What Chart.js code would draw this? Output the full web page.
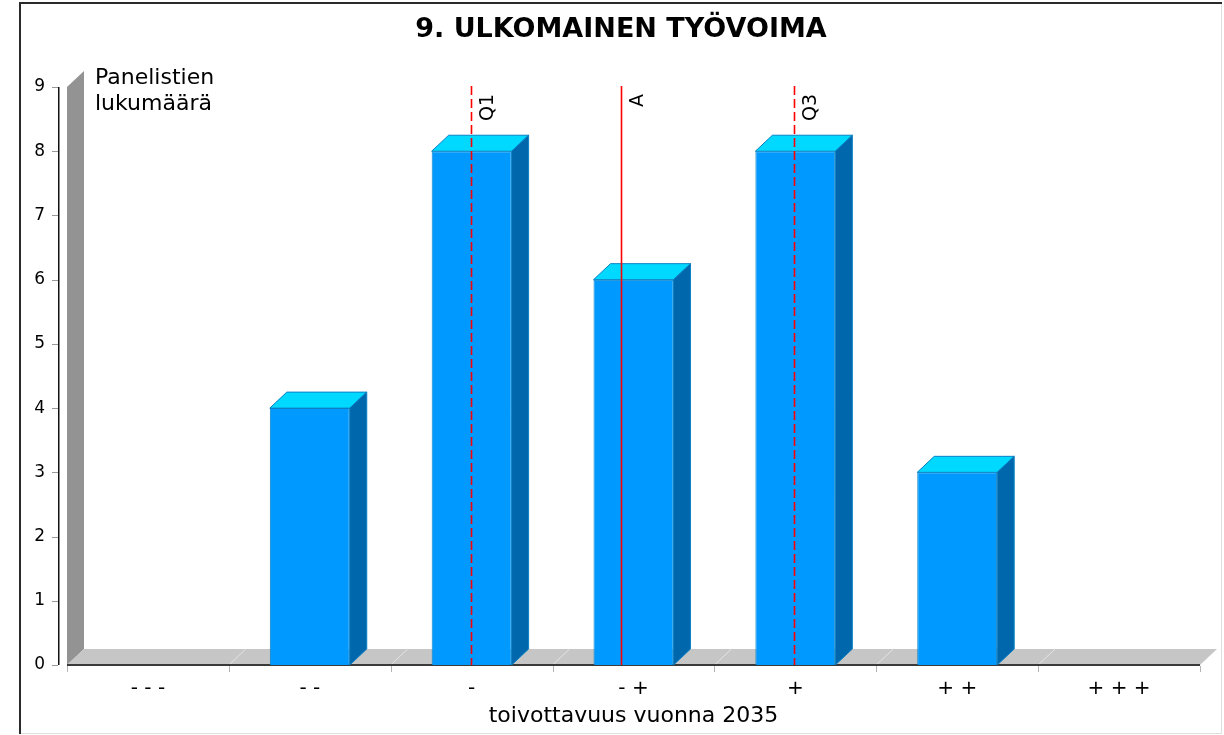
<!DOCTYPE html>
<html>
<head>
<meta charset="utf-8">
<title>9. ULKOMAINEN TYÖVOIMA</title>
<script src="https://cdn.jsdelivr.net/npm/chart.js@4/dist/chart.umd.min.js"></script>
<style>
  html, body { margin: 0; padding: 0; background: #fff; overflow: hidden; }
  #wrap { position: relative; width: 1224px; height: 735px; }
</style>
</head>
<body>
<div id="wrap"><canvas id="chart" width="1224" height="735"></canvas></div>
<script>
// Answer categories on the desirability scale
const categories = ['- - -', '- -', '-', '- +', '+', '+ +', '+ + +'];
// Number of panelists per category
const panelistCounts = [0, 4, 8, 6, 8, 3, 0];
// Value axis range and step
const yMin = 0, yMax = 9, yStep = 1;
// Quartile / average markers, positioned in category index units
const markerNames = ['Q1', 'A', 'Q3'];
const markerPositions = [2, 2.93, 4];
const markerDashed = [true, false, true];
// Axis captions
const chartTitle = '9. ULKOMAINEN TYÖVOIMA';
const xAxisTitle = 'toivottavuus vuonna 2035';
const yAxisTitleLines = ['Panelistien', 'lukumäärä'];

const FONT = "'DejaVu Sans', 'Liberation Sans', sans-serif";
const DEPTH_X = 17, DEPTH_Y = 16;
const COLORS = {
  front: '#0099ff', top: '#00d9ff', side: '#0067ad', edge: '#0a80c4',
  wall: '#939393', floor: '#c6c6c6', floorGrid: '#e4e4e4', marker: '#ff0000'
};

function poly(ctx, pts, fill, stroke) {
  ctx.beginPath();
  ctx.moveTo(pts[0][0], pts[0][1]);
  for (let i = 1; i < pts.length; i++) ctx.lineTo(pts[i][0], pts[i][1]);
  ctx.closePath();
  ctx.fillStyle = fill;
  ctx.fill();
  if (stroke) { ctx.strokeStyle = stroke; ctx.lineWidth = 1; ctx.stroke(); }
}

// Background frame, 3D wall/floor, axes lines, bar depth faces and markers
const depthPlugin = {
  id: 'depth3d',
  beforeDraw(chart) {
    const { ctx, width, height } = chart;
    ctx.save();
    ctx.fillStyle = '#fff';
    ctx.fillRect(0, 0, width, height);
    ctx.fillStyle = '#dedede';
    ctx.fillRect(1221, 3, 1, 731);
    ctx.fillRect(21, 733, 1201, 1);
    ctx.fillStyle = '#2a2a2a';
    ctx.fillRect(19, 2, 2, 732);
    ctx.fillRect(19, 2, 1203, 2);
    ctx.restore();
  },
  beforeDatasetsDraw(chart) {
    const { ctx, chartArea: a, scales: { y } } = chart;
    const L = a.left, R = a.right, T = a.top, B = a.bottom;
    ctx.save();
    // back wall
    poly(ctx, [[L, T], [L + DEPTH_X, T - DEPTH_Y], [L + DEPTH_X, B - DEPTH_Y], [L, B]], COLORS.wall);
    // floor
    poly(ctx, [[L, B], [L + DEPTH_X, B - DEPTH_Y], [R + DEPTH_X, B - DEPTH_Y], [R, B]], COLORS.floor);
    // floor grid diagonals at category boundaries
    const catW = (R - L) / categories.length;
    ctx.strokeStyle = COLORS.floorGrid;
    ctx.lineWidth = 1;
    for (let i = 1; i < categories.length; i++) {
      const bx = L + i * catW;
      ctx.beginPath();
      ctx.moveTo(bx, B);
      ctx.lineTo(bx + DEPTH_X, B - DEPTH_Y);
      ctx.stroke();
    }
    // value axis line and tick marks
    const ax = L - 9;
    ctx.fillStyle = '#111';
    ctx.fillRect(ax, T, 1.5, B - T);
    ctx.fillStyle = '#999';
    y.ticks.forEach(t => {
      const py = Math.round(y.getPixelForValue(t.value));
      ctx.fillRect(ax - 6, py, 6, 1);
    });
    // category axis line and boundary ticks
    ctx.fillStyle = '#3a3a3a';
    ctx.fillRect(L, B - 1, R - L, 2);
    ctx.fillStyle = '#b4b4b4';
    for (let i = 0; i <= categories.length; i++) {
      const bx = Math.round(L + i * catW);
      ctx.fillRect(bx, B + 1, 1, 6);
    }
    ctx.restore();
  },
  afterDatasetsDraw(chart) {
    const { ctx, chartArea: a, scales: { x } } = chart;
    ctx.save();
    // bar top and side faces
    const meta = chart.getDatasetMeta(0);
    meta.data.forEach((bar, i) => {
      if (!panelistCounts[i]) return;
      const p = bar.getProps(['x', 'y', 'base', 'width'], true);
      const l = p.x - p.width / 2, r = p.x + p.width / 2;
      poly(ctx, [[l, p.y], [l + DEPTH_X, p.y - DEPTH_Y], [r + DEPTH_X, p.y - DEPTH_Y], [r, p.y]], COLORS.top, COLORS.edge);
      poly(ctx, [[r, p.y], [r + DEPTH_X, p.y - DEPTH_Y], [r + DEPTH_X, p.base - DEPTH_Y], [r, p.base]], COLORS.side, COLORS.edge);
    });
    // quartile and average markers
    markerPositions.forEach((v, i) => {
      const px = Math.round(x.getPixelForValue(v)) - 0.5;
      ctx.strokeStyle = COLORS.marker;
      ctx.lineWidth = 1.6;
      ctx.setLineDash(markerDashed[i] ? [9, 4] : []);
      ctx.beginPath();
      ctx.moveTo(px, a.top - 1);
      ctx.lineTo(px, a.bottom);
      ctx.stroke();
      ctx.setLineDash([]);
      ctx.save();
      ctx.translate(px + 21, a.top + 7);
      ctx.rotate(-Math.PI / 2);
      ctx.fillStyle = '#000';
      ctx.font = '19px ' + FONT;
      ctx.textAlign = 'right';
      ctx.textBaseline = 'alphabetic';
      ctx.fillText(markerNames[i], 0, 0);
      ctx.restore();
    });
    // value axis caption, written horizontally inside the plot
    ctx.fillStyle = '#000';
    ctx.font = '22px ' + FONT;
    ctx.textAlign = 'left';
    ctx.textBaseline = 'middle';
    yAxisTitleLines.forEach((line, i) => {
      ctx.fillText(line, a.left + 28, a.top - 9 + i * 26);
    });
    ctx.restore();
  }
};

new Chart(document.getElementById('chart'), {
  type: 'bar',
  data: {
    labels: categories,
    datasets: [{
      data: panelistCounts,
      backgroundColor: COLORS.front,
      borderColor: COLORS.edge,
      borderWidth: 1,
      categoryPercentage: 1,
      barPercentage: 0.494
    }]
  },
  options: {
    responsive: false,
    animation: false,
    devicePixelRatio: 1,
    layout: { padding: { top: 3, left: 20, right: 2, bottom: 2 } },
    plugins: {
      legend: { display: false },
      tooltip: { enabled: false },
      title: {
        display: true,
        text: chartTitle,
        color: '#000',
        font: { family: FONT, size: 27, weight: 'bold', lineHeight: 1.2 },
        padding: { top: 10.8, bottom: 40.8 }
      }
    },
    scales: {
      x: {
        grid: { display: false, drawTicks: false },
        border: { display: false },
        ticks: { color: '#000', font: { family: FONT, size: 20 }, padding: 12, maxRotation: 0, autoSkip: false },
        title: {
          display: true, text: xAxisTitle, color: '#000',
          font: { family: FONT, size: 22, lineHeight: 1.2 },
          padding: { top: 0, bottom: 3.8 }
        },
        afterFit(s) { s.height = 68; }
      },
      y: {
        min: yMin, max: yMax,
        grid: { display: false, drawTicks: false },
        border: { display: false },
        ticks: { stepSize: yStep, color: '#000', font: { family: FONT, size: 17 }, padding: 22 },
        afterFit(s) { s.width = 47; }
      },
      yRight: {
        position: 'right',
        display: true,
        grid: { display: false, drawTicks: false },
        border: { display: false },
        ticks: { display: false },
        afterFit(s) { s.width = 22; }
      }
    }
  },
  plugins: [depthPlugin]
});
</script>
</body>
</html>
